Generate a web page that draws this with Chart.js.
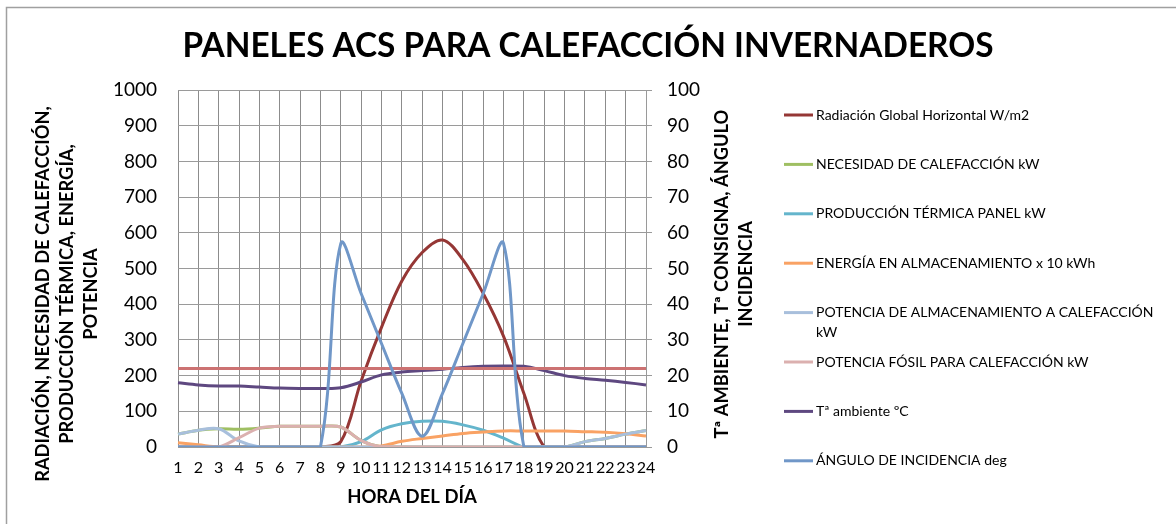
<!DOCTYPE html>
<html>
<head>
<meta charset="utf-8">
<script src="https://cdn.jsdelivr.net/npm/chart.js@4.4.0/dist/chart.umd.min.js"></script>
<style>
  html, body { margin: 0; padding: 0; background: #fff; }
</style>
</head>
<body>
<canvas id="chart" width="1176" height="524"></canvas>
<script>
// horas del día
const hours = ['1','2','3','4','5','6','7','8','9','10','11','12','13','14','15','16','17','18','19','20','21','22','23','24'];

// eje principal
const radiacion  = [0,0,0,0,0,0,0,0,15,185,335,465,545,580,525,430,310,150,0,0,0,0,0,0];
const necesidad  = [36,47,51,50,53,58,58,58,56,18,0,0,0,0,0,0,0,0,0,0,15,24,36,46];
const produccion = [0,0,0,0,0,0,0,0,0,15,48,65,72,72,62,47,25,0,0,0,0,0,0,0];
const energia    = [12,6,0,0,0,0,0,0,0,0,3,16,24,31,38,42,45,45,45,45,43,41,37,31];
const almacen    = [36,47,51,17,0,0,0,0,0,0,0,0,0,0,0,0,0,0,0,0,15,24,36,46];
const fosil      = [0,0,0,26,53,58,58,58,56,18,0,0,0,0,0,0,0,0,0,0,0,0,0,0];

// eje secundario
const tAmbiente = [18.0,17.4,17.1,17.1,16.8,16.5,16.4,16.4,16.6,18.2,20.2,21.0,21.4,21.8,22.3,22.6,22.7,22.6,21.4,20.0,19.2,18.7,18.1,17.4];
const tConsigna = [22,22,22,22,22,22,22,22,22,22,22,22,22,22,22,22,22,22,22,22,22,22,22,22];
const angulo    = [0,0,0,0,0,0,0,0,57,43,29,15,3,15,29,43,57,0,0,0,0,0,0,0];

const chartTitle = 'PANELES ACS PARA CALEFACCIÓN INVERNADEROS';
const leftTitle = ['RADIACIÓN, NECESIDAD DE CALEFACCIÓN,', 'PRODUCCIÓN TÉRMICA, ENERGÍA,', 'POTENCIA'];
const rightTitle = ['Tª AMBIENTE, Tª CONSIGNA, ÁNGULO', 'INCIDENCIA'];

const FONT = 'Lato';

function serie(label, data, color, axis, idx, legend = true) {
  return {
    label: label,
    data: data,
    borderColor: color,
    backgroundColor: color,
    yAxisID: axis,
    order: 20 - idx,
    inLegend: legend
  };
}

const datasets = [
  serie('Radiación Global Horizontal W/m2', radiacion, '#953735', 'y', 0),
  serie('NECESIDAD DE CALEFACCIÓN kW', necesidad, '#9fbf62', 'y', 1),
  serie('PRODUCCIÓN TÉRMICA PANEL kW', produccion, '#64b5cc', 'y', 2),
  serie('ENERGÍA EN ALMACENAMIENTO x 10 kWh', energia, '#f9a264', 'y', 3),
  serie('POTENCIA DE ALMACENAMIENTO A CALEFACCIÓN kW', almacen, '#a8bfdc', 'y', 4),
  serie('POTENCIA FÓSIL PARA CALEFACCIÓN kW', fosil, '#dbb0af', 'y', 5),
  serie('Tª ambiente ºC', tAmbiente, '#5e4880', 'y1', 6),
  serie('Tª consigna ºC', tConsigna, '#cc7272', 'y1', 7, false),
  serie('ÁNGULO DE INCIDENCIA deg', angulo, '#7097c8', 'y1', 8)
];

// fondo y marco exterior
const frame = {
  id: 'frame',
  beforeDraw(chart) {
    const c = chart.ctx;
    c.save();
    c.fillStyle = '#fff';
    c.fillRect(0, 0, chart.width, chart.height);
    c.strokeStyle = '#a0a0a0';
    c.lineWidth = 1.5;
    c.strokeRect(6.5, 7.5, chart.width + 20, chart.height + 20);
    c.restore();
  }
};

// títulos de los ejes verticales (leídos de abajo hacia arriba)
const sideTitles = {
  id: 'sideTitles',
  afterDraw(chart) {
    const c = chart.ctx;
    const area = chart.chartArea;
    c.save();
    c.font = 'bold 18.3px ' + FONT;
    c.fillStyle = '#000';
    c.textAlign = 'center';
    c.textBaseline = 'middle';
    const draw = (lines, x0, y) => {
      lines.forEach((t, i) => {
        c.save();
        c.translate(x0 + i * 24, y);
        c.rotate(-Math.PI / 2);
        c.fillText(t, 0, 0);
        c.restore();
      });
    };
    draw(leftTitle, 43, 294);
    draw(rightTitle, area.right + 76, 274);
    c.restore();
  }
};

// leyenda a la derecha
const sideLegend = {
  id: 'sideLegend',
  afterDraw(chart) {
    const c = chart.ctx;
    const x0 = 784, tx = 816, maxW = chart.width - 8 - tx;
    c.save();
    c.font = '14px ' + FONT;
    c.textBaseline = 'middle';
    c.fillStyle = '#000';
    let y = 115;
    chart.data.datasets.forEach(ds => {
      if (!ds.inLegend) return;
      c.strokeStyle = ds.borderColor;
      c.lineWidth = 3;
      c.beginPath();
      c.moveTo(x0, y);
      c.lineTo(tx - 3, y);
      c.stroke();
      // partir la etiqueta si no cabe
      const words = ds.label.split(' ');
      let line = '', ly = y;
      words.forEach(w => {
        const test = line ? line + ' ' + w : w;
        if (c.measureText(test).width > maxW && line) {
          c.fillText(line, tx, ly);
          line = w;
          ly += 20;
        } else {
          line = test;
        }
      });
      c.fillText(line, tx, ly);
      y += 49.4;
    });
    c.restore();
  }
};

new Chart(document.getElementById('chart'), {
  type: 'line',
  data: {
    labels: hours,
    datasets: datasets
  },
  options: {
    responsive: false,
    animation: false,
    layout: { padding: 0 },
    elements: {
      point: { radius: 0 },
      line: { tension: 0.35, borderWidth: 3 }
    },
    plugins: {
      legend: { display: false },
      tooltip: { enabled: false },
      title: {
        display: true,
        text: chartTitle,
        color: '#000',
        font: { family: FONT, size: 33.4, weight: 'bold' },
        padding: { top: 26, bottom: 24 }
      }
    },
    scales: {
      x: {
        offset: false,
        grid: { color: '#8c8c8c', drawTicks: false },
        border: { display: false },
        ticks: {
          autoSkip: false,
          maxRotation: 0,
          padding: 11,
          color: '#000',
          font: { family: FONT, size: 16 }
        },
        title: {
          display: true,
          text: 'HORA DEL DÍA',
          color: '#000',
          font: { family: FONT, size: 18.5, weight: 'bold' },
          padding: { top: 0, bottom: 16 }
        },
        afterFit(s) { s.height = 77; }
      },
      y: {
        position: 'left',
        min: 0,
        max: 1000,
        grid: { color: '#9a9a9a', drawTicks: false },
        border: { display: false },
        ticks: {
          stepSize: 100,
          padding: 21,
          color: '#000',
          font: { family: FONT, size: 19 },
          callback: v => String(v)
        },
        afterFit(s) { s.width = 178; }
      },
      y1: {
        position: 'right',
        min: 0,
        max: 100,
        grid: { drawOnChartArea: false, tickLength: 6, color: '#9a9a9a' },
        border: { display: true, color: '#9a9a9a' },
        ticks: {
          stepSize: 10,
          padding: 15,
          color: '#000',
          font: { family: FONT, size: 19 },
          callback: v => String(v)
        },
        afterFit(s) { s.width = 530; }
      }
    }
  },
  plugins: [frame, sideTitles, sideLegend]
});
</script>
</body>
</html>
